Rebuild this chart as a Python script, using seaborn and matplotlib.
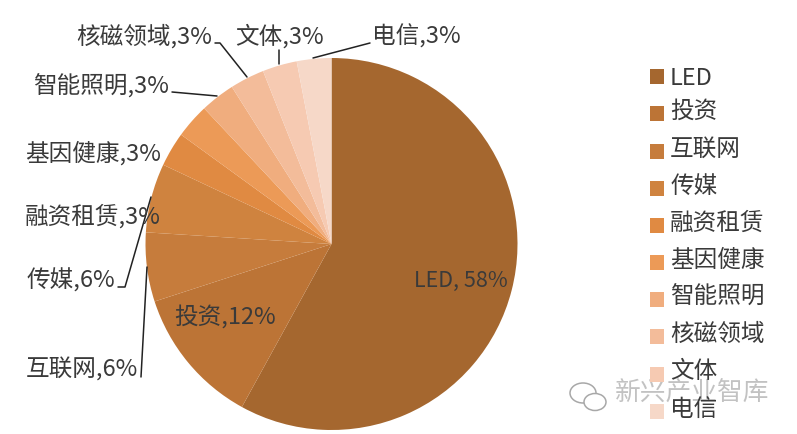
"""Pie chart of sector shares with outside labels and a side legend."""
import matplotlib
matplotlib.use("Agg")
import matplotlib.pyplot as plt
from matplotlib.patches import Ellipse
import seaborn as sns

sns.set_theme(style="white")
plt.rcParams["font.family"] = ["Noto Sans CJK SC", "DejaVu Sans"]

sectors = ["LED", "投资", "互联网", "传媒", "融资租赁", "基因健康", "智能照明", "核磁领域", "文体", "电信"]
shares = [58, 12, 6, 6, 3, 3, 3, 3, 3, 3]
slice_colors = ["#A5672F", "#BC7436", "#C67C3C", "#CF833F", "#E08A42",
                "#EC9A57", "#F0AD7E", "#F3BC9A", "#F6CAB2", "#F6D8C8"]

TEXT = "#3a3a3a"
W, H = 797, 434

# label anchor (left x, centre y) in picture pixels
label_pos = {
    "LED": (414, 281), "投资": (174, 317), "互联网": (26, 370), "传媒": (27, 281),
    "融资租赁": (25, 216), "基因健康": (25, 153), "智能照明": (33, 86),
    "核磁领域": (76, 36), "文体": (235, 36), "电信": (372, 36),
}
leaders = [
    [(313, 58), (370, 43)],
    [(279, 64), (279, 50)],
    [(247, 77), (220, 43), (215, 43)],
    [(217, 96), (172, 92)],
    [(151, 197), (125, 287), (118, 287)],
    [(147, 267), (141, 377)],
]

fig = plt.figure(figsize=(W / 100, H / 100), dpi=100, facecolor="white")

palette = sns.color_palette(slice_colors)
pie_ax = fig.add_axes([145.5 / W, (H - 430) / H, 372 / W, 372 / H])
wedges, _ = pie_ax.pie(shares, colors=palette, startangle=90, counterclock=False, radius=1,
                       wedgeprops={"linewidth": 0})
pie_ax.set_xlim(-1, 1)
pie_ax.set_ylim(-1, 1)

# overlay in pixel coordinates for the labels and leader lines
ax = fig.add_axes([0, 0, 1, 1], facecolor="none")
ax.set_xlim(0, W)
ax.set_ylim(H, 0)
ax.axis("off")

for name, share in zip(sectors, shares):
    x, y = label_pos[name]
    size = 15.5 if name == "LED" else 17
    sep = ", " if name == "LED" else ","
    ax.text(x, y, f"{name}{sep}{share}%", fontsize=size, color=TEXT, ha="left", va="center")

for pts in leaders:
    ax.plot([p[0] for p in pts], [p[1] for p in pts], color="#222222", lw=1.1)

leg = fig.legend(wedges, sectors, loc="upper left", bbox_to_anchor=(650 / W, 1 - 67 / H),
                 frameon=False, fontsize=17, handlelength=0.6, handleheight=0.6,
                 handletextpad=0.25, labelspacing=0.6, borderpad=0, borderaxespad=0,
                 labelcolor=TEXT)
# the Chinese legend labels sit a little above their squares
for t in leg.get_texts()[1:]:
    t.set_y(4)

# watermark
ax.text(615, 393, "新兴产业智库", fontsize=18.5, color="#9a9a9a", alpha=0.6, ha="left", va="center")
ax.add_patch(Ellipse((583, 393), 26, 20, fill=False, ec="#a8a8a8", lw=1.1))
ax.add_patch(Ellipse((595, 402), 22, 17, facecolor="white", ec="#a8a8a8", lw=1.1))

fig.savefig("out.png", dpi=100, facecolor="white")
